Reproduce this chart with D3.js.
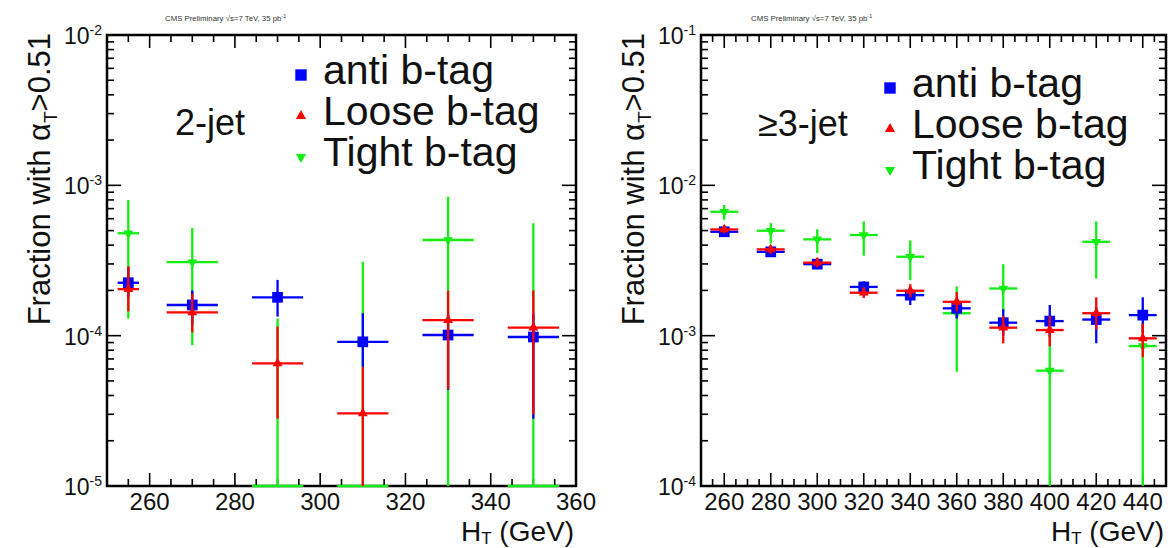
<!DOCTYPE html>
<html>
<head>
<meta charset="utf-8">
<script src="https://cdn.jsdelivr.net/npm/d3@7"></script>
<style>
  body { margin: 0; background: #fff; }
  svg { font-family: "Liberation Sans", Arial, Helvetica, sans-serif; }
</style>
</head>
<body>
<svg id="chart" width="1176" height="548"></svg>
<script>
// ---- 2-jet panel ----
const ht2 = [255, 270, 290, 310, 330, 350];
const htErr2 = [2.5, 6, 6, 6, 6, 6];
const anti2   = [2.25e-4, 1.60e-4, 1.80e-4, 9.1e-5, 1.01e-4, 9.8e-5];
const antiHi2 = [2.85e-4, 2.00e-4, 2.35e-4, 1.41e-4, 1.40e-4, 1.40e-4];
const antiLo2 = [1.80e-4, 1.17e-4, 1.34e-4, 6.2e-5, 4.35e-5, 2.8e-5];
const loose2   = [2.04e-4, 1.43e-4, 6.55e-5, 3.04e-5, 1.27e-4, 1.13e-4];
const looseHi2 = [2.90e-4, 1.90e-4, 1.15e-4, 6.2e-5, 2.00e-4, 2.00e-4];
const looseLo2 = [1.45e-4, 1.05e-4, 2.8e-5, 0, 4.4e-5, 3.0e-5];
const tight2   = [4.8e-4, 3.08e-4, 0, 0, 4.33e-4, 0];
const tightHi2 = [8.0e-4, 5.2e-4, 1.3e-4, 3.1e-4, 8.4e-4, 5.6e-4];
const tightLo2 = [1.3e-4, 8.65e-5, 0, 0, 0, 0];
const xTicks2 = [260, 280, 300, 320, 340, 360];
const yTicks2 = [-5, -4, -3, -2];

// ---- >=3-jet panel ----
const ht3 = [260, 280, 300, 320, 340, 360, 380, 400, 420, 440];
const htErr3 = [6, 6, 6, 6, 6, 6, 6, 6, 6, 6];
const anti3   = [4.91e-3, 3.61e-3, 2.99e-3, 2.11e-3, 1.86e-3, 1.52e-3, 1.22e-3, 1.25e-3, 1.28e-3, 1.37e-3];
const antiHi3 = [5.25e-3, 3.85e-3, 3.20e-3, 2.30e-3, 2.05e-3, 1.75e-3, 1.50e-3, 1.60e-3, 1.55e-3, 1.80e-3];
const antiLo3 = [4.60e-3, 3.40e-3, 2.80e-3, 1.93e-3, 1.60e-3, 1.30e-3, 1.00e-3, 9.8e-4, 8.9e-4, 1.05e-3];
const loose3   = [5.09e-3, 3.75e-3, 3.06e-3, 1.93e-3, 1.99e-3, 1.68e-3, 1.13e-3, 1.09e-3, 1.41e-3, 9.6e-4];
const looseHi3 = [5.40e-3, 4.00e-3, 3.30e-3, 2.10e-3, 2.20e-3, 1.95e-3, 1.35e-3, 1.35e-3, 1.80e-3, 1.20e-3];
const looseLo3 = [4.80e-3, 3.50e-3, 2.85e-3, 1.78e-3, 1.80e-3, 1.45e-3, 8.9e-4, 8.5e-4, 1.10e-3, 7.2e-4];
const tight3   = [6.67e-3, 4.99e-3, 4.37e-3, 4.67e-3, 3.35e-3, 1.41e-3, 2.06e-3, 5.85e-4, 4.21e-3, 8.53e-4];
const tightHi3 = [7.40e-3, 5.60e-3, 5.10e-3, 5.75e-3, 4.30e-3, 2.13e-3, 2.99e-3, 1.15e-3, 5.75e-3, 1.20e-3];
const tightLo3 = [5.90e-3, 4.10e-3, 3.54e-3, 3.40e-3, 2.34e-3, 5.75e-4, 1.41e-3, 0, 2.40e-3, 0];
const xTicks3 = [260, 280, 300, 320, 340, 360, 380, 400, 420, 440];
const yTicks3 = [-4, -3, -2, -1];

const legendNames = ['anti b-tag', 'Loose b-tag', 'Tight b-tag'];
const colors = { anti: '#0000ff', loose: '#ff0000', tight: '#11ee11' };

function rows(x, xe, v, lo, hi) {
    return x.map((d, i) => ({ x: d, xe: xe[i], v: v[i], lo: lo[i], hi: hi[i] }));
}

class FractionPlot {
    constructor(config, series) {
        this.config = config;
        this.series = series;
        this.init();
        this.render();
    }

    init() {
        let self = this;
        let c = self.config;
        self.svg = d3.select('#chart');
        self.xscale = d3.scaleLinear().domain(c.xdomain).range([c.left, c.right]);
        self.yscale = d3.scaleLog().domain(c.ydomain).range([c.bottom, c.top]).clamp(true);
        self.g = self.svg.append('g');
    }

    yv(v) {
        return this.yscale(Math.max(v, this.config.ydomain[0]));
    }

    render() {
        let self = this;
        let c = self.config;
        let g = self.g;
        let x = self.xscale, y = self.yscale;

        // minor/major ticks on all four sides
        let tickG = g.append('g').attr('stroke', '#000').attr('stroke-width', 1.6);
        let minors = d3.range(c.xdomain[0], c.xdomain[1] + 0.01, c.xminor);
        minors.forEach(t => {
            let len = (t % 20 === 0) ? 13 : 7;
            tickG.append('line').attr('x1', x(t)).attr('x2', x(t)).attr('y1', c.bottom).attr('y2', c.bottom - len);
            tickG.append('line').attr('x1', x(t)).attr('x2', x(t)).attr('y1', c.top).attr('y2', c.top + len);
        });
        let e0 = Math.log10(c.ydomain[0]), e1 = Math.log10(c.ydomain[1]);
        for (let e = e0; e < e1; e++) {
            for (let m = 1; m <= 9; m++) {
                let val = m * Math.pow(10, e);
                let len = m === 1 ? 14 : 7;
                tickG.append('line').attr('x1', c.left).attr('x2', c.left + len).attr('y1', y(val)).attr('y2', y(val));
                tickG.append('line').attr('x1', c.right).attr('x2', c.right - len).attr('y1', y(val)).attr('y2', y(val));
            }
        }

        // frame
        g.append('rect')
            .attr('x', c.left).attr('y', c.top)
            .attr('width', c.right - c.left).attr('height', c.bottom - c.top)
            .attr('fill', 'none').attr('stroke', '#000').attr('stroke-width', 2.5);

        // x tick labels
        g.selectAll('.xl').data(c.xticks).enter().append('text')
            .attr('x', d => x(d)).attr('y', c.bottom + 24)
            .attr('text-anchor', 'middle').attr('font-size', 24).attr('fill', '#111')
            .text(d => d);

        // y tick labels 10^n
        let yl = g.selectAll('.yl').data(c.yticks).enter().append('text')
            .attr('x', c.left - 5).attr('y', d => y(Math.pow(10, d)) + 9)
            .attr('text-anchor', 'end').attr('fill', '#111');
        yl.append('tspan').attr('font-size', 23).text('10');
        yl.append('tspan').attr('font-size', 14).attr('dy', -9).text(d => '-' + Math.abs(d));

        // axis titles
        let xt = g.append('text').attr('x', c.right - 2).attr('y', 541)
            .attr('text-anchor', 'end').attr('font-size', 28).attr('fill', '#111');
        xt.append('tspan').text('H');
        xt.append('tspan').attr('font-size', 17).attr('dy', 3).text('T');
        xt.append('tspan').attr('dy', -3).text(' (GeV)');

        let ytl = g.append('text')
            .attr('transform', `translate(${c.left - 57}, ${c.top - 2}) rotate(-90)`)
            .attr('text-anchor', 'end').attr('font-size', 31).attr('fill', '#111');
        ytl.append('tspan').text('Fraction with α');
        ytl.append('tspan').attr('font-size', 19).attr('dy', 7).text('T');
        ytl.append('tspan').attr('dy', -7).text('>0.51');

        // header
        let hd = g.append('text').attr('x', c.titleX).attr('y', 21)
            .attr('font-size', 7.8).attr('fill', '#333');
        hd.append('tspan').text('CMS Preliminary √s=7 TeV, 35 pb');
        hd.append('tspan').attr('font-size', 5.5).attr('dy', -3).text('-1');

        // jet label
        g.append('text').attr('x', c.jetX).attr('y', c.jetY)
            .attr('font-size', 36).attr('fill', '#111').text(c.jetLabel);

        // data series: green, blue, red
        let order = ['tight', 'anti', 'loose'];
        order.forEach(key => {
            let data = self.series[key];
            let col = colors[key];
            let sg = g.append('g').attr('stroke', col).attr('stroke-width', 2.3);
            sg.selectAll('.h').data(data).enter().append('line')
                .attr('x1', d => x(d.x - d.xe)).attr('x2', d => x(d.x + d.xe))
                .attr('y1', d => self.yv(d.v)).attr('y2', d => self.yv(d.v));
            sg.selectAll('.v').data(data).enter().append('line')
                .attr('x1', d => x(d.x)).attr('x2', d => x(d.x))
                .attr('y1', d => self.yv(d.lo)).attr('y2', d => self.yv(d.hi));
            let sym = self.symbolFor(key, false);
            g.selectAll('.m' + key).data(data.filter(d => d.v > c.ydomain[0])).enter().append('path')
                .attr('d', sym)
                .attr('transform', d => `translate(${x(d.x)}, ${y(d.v)})` + (key === 'tight' ? ' rotate(180)' : ''))
                .attr('fill', col);
        });

        // legend
        ['anti', 'loose', 'tight'].forEach((key, i) => {
            let by = c.legendY + i * 41;
            g.append('path')
                .attr('d', self.symbolFor(key, true))
                .attr('transform', `translate(${c.legendX}, ${by - 9})` + (key === 'tight' ? ' rotate(180)' : ''))
                .attr('fill', colors[key]);
            g.append('text').attr('x', c.legendX + 22).attr('y', by)
                .attr('font-size', 41).attr('fill', '#111').text(legendNames[i]);
        });
    }

    symbolFor(key, legend) {
        if (key === 'anti') return d3.symbol().type(d3.symbolSquare).size(legend ? 130 : 115)();
        return d3.symbol().type(d3.symbolTriangle).size(legend ? 45 : 42)();
    }
}

new FractionPlot({
    left: 107, right: 576, top: 35, bottom: 486,
    xdomain: [250, 360], ydomain: [1e-5, 1e-2],
    xminor: 5, xticks: xTicks2, yticks: yTicks2,
    titleX: 165, jetLabel: '2-jet', jetX: 175, jetY: 135,
    legendX: 301, legendY: 84
}, {
    anti: rows(ht2, htErr2, anti2, antiLo2, antiHi2),
    loose: rows(ht2, htErr2, loose2, looseLo2, looseHi2),
    tight: rows(ht2, htErr2, tight2, tightLo2, tightHi2)
});

new FractionPlot({
    left: 701, right: 1166, top: 35, bottom: 486,
    xdomain: [250, 450], ydomain: [1e-4, 1e-1],
    xminor: 5, xticks: xTicks3, yticks: yTicks3,
    titleX: 751, jetLabel: '≥3-jet', jetX: 758, jetY: 136,
    legendX: 890, legendY: 97
}, {
    anti: rows(ht3, htErr3, anti3, antiLo3, antiHi3),
    loose: rows(ht3, htErr3, loose3, looseLo3, looseHi3),
    tight: rows(ht3, htErr3, tight3, tightLo3, tightHi3)
});
</script>
</body>
</html>
